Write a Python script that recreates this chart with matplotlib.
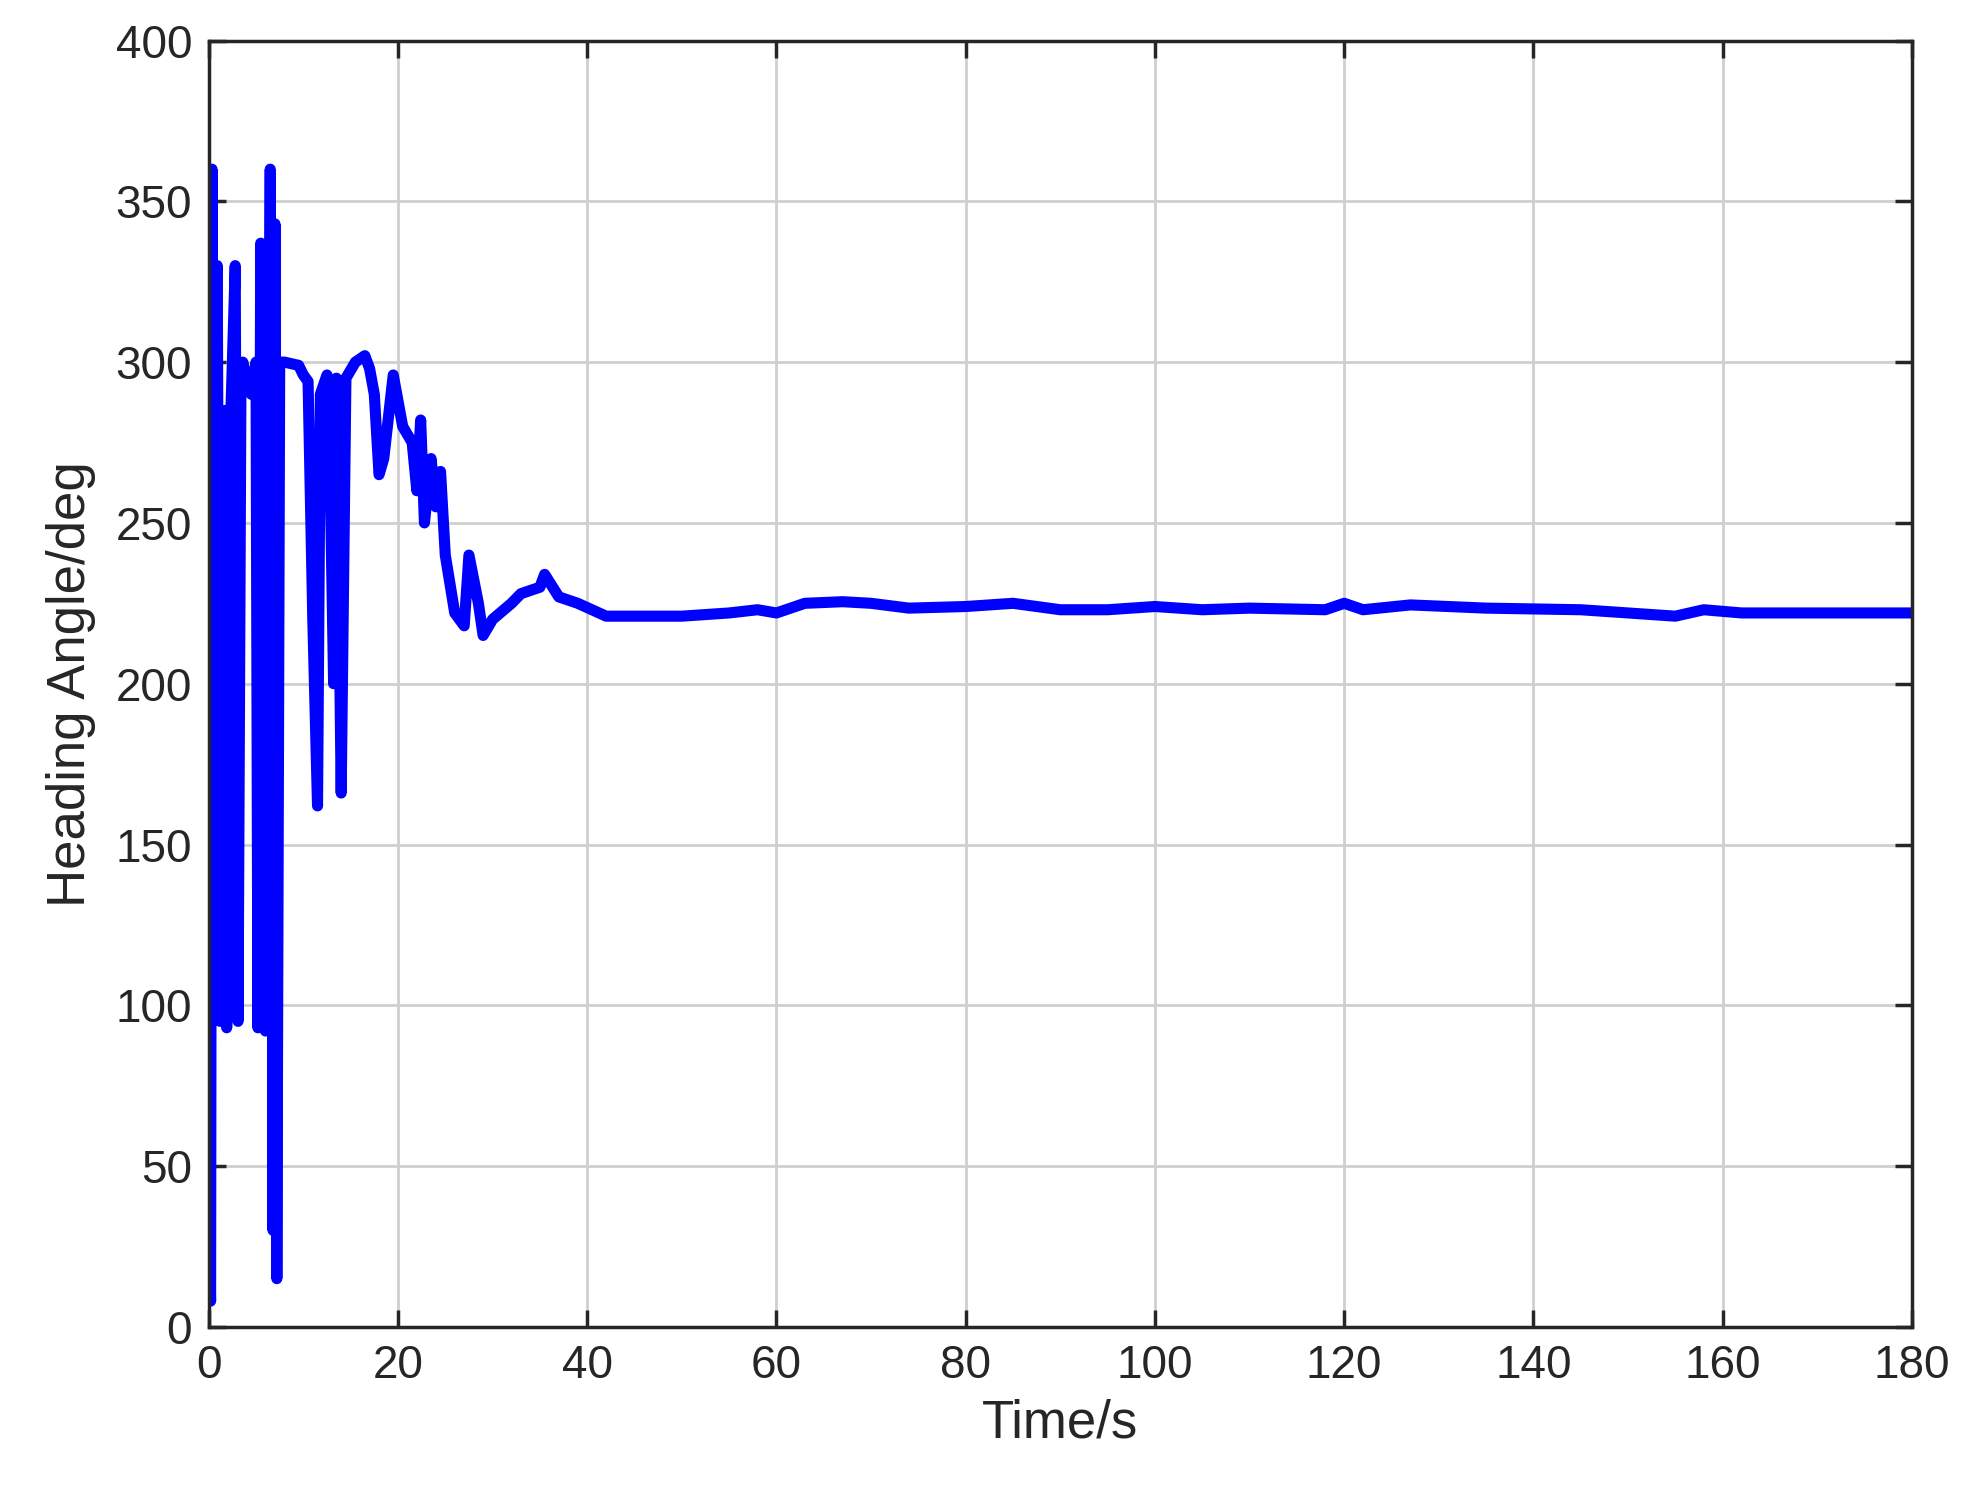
import matplotlib
matplotlib.use('Agg')
import matplotlib.pyplot as plt

plt.rcParams['font.family'] = ['Liberation Sans', 'DejaVu Sans']

# time (s) and heading angle (deg)
time_s = [0.0, 0.2, 0.35, 0.5, 0.9, 1.2, 1.5, 1.8, 1.9, 2.3, 2.8, 3.1, 3.4, 3.6,
          4.2, 4.5, 5.0, 5.2, 5.5, 6.0, 6.5, 6.8, 7.0, 7.2, 7.5, 8.0, 9.5,
          10.0, 10.5, 11.0, 11.5, 11.8, 12.5, 12.8, 13.2, 13.5, 14.0, 14.5,
          15.5, 16.5, 17.0, 17.5, 18.0, 18.5, 19.5, 20.5, 21.5, 22.0, 22.4,
          22.8, 23.5, 24.0, 24.5, 25.0, 26.0, 27.0, 27.5, 28.5, 29.0, 30.0,
          32.0, 33.0, 35.0, 35.5, 37.0, 39.0, 42.0, 45.0, 50.0, 55.0, 58.0,
          60.0, 63.0, 67.0, 70.0, 74.0, 80.0, 85.0, 90.0, 95.0, 100.0, 105.0,
          110.0, 118.0, 120.0, 122.0, 127.0, 135.0, 145.0, 150.0, 155.0,
          158.0, 162.0, 180.0]
heading_deg = [40, 8, 360, 100, 330, 95, 280, 285, 93, 280, 330, 95, 290, 300,
               293, 290, 300, 93, 337, 92, 360, 30, 343, 15, 300, 300, 299,
               296, 294, 220, 162, 290, 296, 270, 200, 295, 166, 295,
               300, 302, 298, 290, 265, 270, 296, 280, 275, 260, 282,
               250, 270, 255, 266, 240, 222, 218, 240, 225, 215, 220,
               225, 228, 230, 234, 227, 225, 221, 221, 221, 222, 223,
               222, 225, 225.5, 225, 223.5, 224, 225, 223, 223, 224, 223,
               223.5, 223, 225, 223, 224.5, 223.5, 223, 222, 221,
               223, 222, 222]

fig = plt.figure(figsize=(19.69, 15.01), dpi=100)
ax = fig.add_axes([0.106, 0.116, 0.865, 0.857])

ax.plot(time_s, heading_deg, color='#0000ff', linewidth=8)

ax.set_xlim(0, 180)
ax.set_ylim(0, 400)
ax.set_xticks(range(0, 181, 20))
ax.set_yticks(range(0, 401, 50))
ax.grid(True, color='#cfcfcf', linewidth=2)
ax.set_axisbelow(True)
ax.tick_params(labelsize=33, direction='in', length=12, width=2.5, top=True, right=True,
               colors='#262626', pad=12)
for s in ax.spines.values():
    s.set_linewidth(2.5)
    s.set_color('#262626')

ax.set_xlabel('Time/s', fontsize=38, color='#262626', labelpad=8)
ax.set_ylabel('Heading Angle/deg', fontsize=38, color='#262626', labelpad=14)

fig.savefig('out.png', dpi=100)
